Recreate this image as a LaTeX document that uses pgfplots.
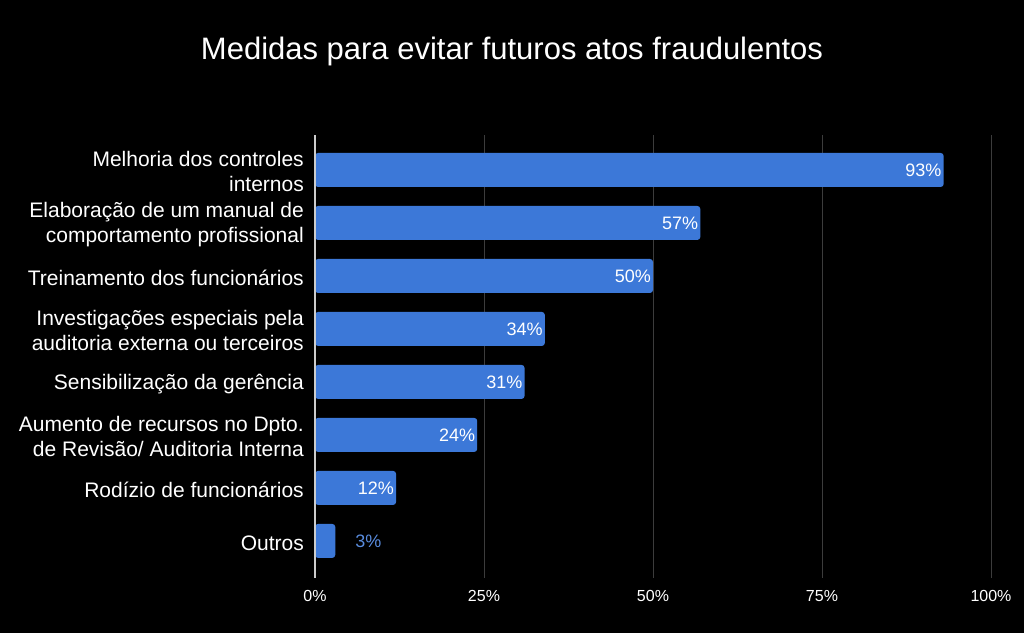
\documentclass[border=0pt]{standalone}
\usepackage{pgfplots}
\pgfplotsset{compat=1.18}
\usepackage{fontspec}
\setmainfont{Liberation Sans}
\definecolor{barblue}{HTML}{3C78D8}
\definecolor{gridgray}{HTML}{3C3C3C}
\definecolor{axisgray}{HTML}{CCCCCC}
\begin{document}
\begin{tikzpicture}
\fill[black] (0pt,0pt) rectangle (1024pt,633pt);
\node[white, font=\fontsize{31}{34}\selectfont] at (512pt,582pt) {Medidas para evitar futuros atos fraudulentos};
\begin{axis}[
  at={(315pt,55pt)}, anchor=south west,
  scale only axis, width=676pt, height=443pt,
  xmin=0, xmax=100, ymin=-0.66, ymax=7.7, y dir=reverse,
  bar width=34pt,
  axis line style={draw=none},
  major tick length=0pt,
  xmajorgrids, grid style={gridgray, line width=1pt},
  xtick={0,25,50,75,100},
  xticklabel={\pgfmathprintnumber{\tick}\%},
  /pgf/number format/assume math mode=true,
  xticklabel style={white, font=\fontsize{16}{18}\selectfont, yshift=-9pt},
  ytick={0,...,7},
  yticklabels={{Melhoria dos controles\\internos},{Elaboração de um manual de\\comportamento profissional},{Treinamento dos funcionários},{Investigações especiais pela\\auditoria externa ou terceiros},{Sensibilização da gerência},{Aumento de recursos no Dpto.\\de Revisão/ Auditoria Interna},{Rodízio de funcionários},{Outros}},
  yticklabel style={white, align=right, font=\fontsize{21}{25}\selectfont, inner sep=0pt, xshift=-11pt, yshift=-2pt},
  clip=false,
]
\addplot[xbar, fill=barblue, draw=none, rounded corners=3pt] coordinates {(93,0) (57,1) (50,2) (34,3) (31,4) (24,5) (12,6) (3,7)};
\addplot[draw=none, mark=none, point meta=x,
  nodes near coords={\pgfmathprintnumber{\pgfplotspointmeta}\%},
  every node near coord/.append style={anchor=east, white, xshift=-2pt, inner sep=0pt, font=\fontsize{18}{20}\selectfont}]
  coordinates {(93,0) (57,1) (50,2) (34,3) (31,4) (24,5) (12,6)};
\addplot[draw=none, mark=none, point meta=x,
  nodes near coords={\pgfmathprintnumber{\pgfplotspointmeta}\%},
  every node near coord/.append style={anchor=west, barblue!85!white, xshift=20pt, inner sep=0pt, font=\fontsize{18}{20}\selectfont}]
  coordinates {(3,7)};
\draw[axisgray, line width=1.2pt] (rel axis cs:0,0) -- (rel axis cs:0,1);
\end{axis}
\end{tikzpicture}
\end{document}
